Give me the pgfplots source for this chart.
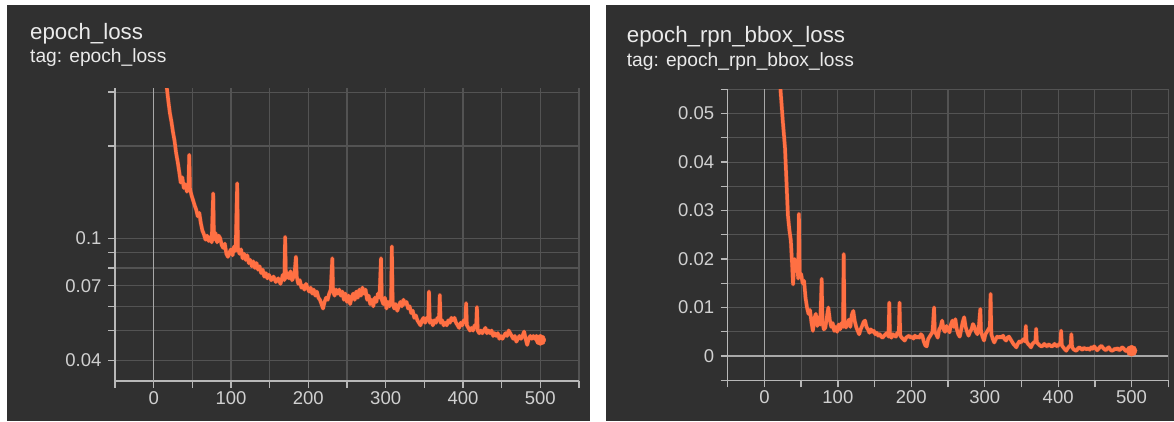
\documentclass[border=0pt]{standalone}
\usepackage{pgfplots}
\pgfplotsset{compat=1.18}
\usepackage{pgfplotstable}
\usepackage{fontspec}
\setmainfont{Liberation Sans}
\definecolor{panel}{HTML}{303030}
\definecolor{gridc}{HTML}{535353}
\definecolor{axisc}{HTML}{B8B8B8}
\definecolor{zeroc}{HTML}{A8A8A8}
\definecolor{tickc}{HTML}{D0D0D0}
\definecolor{titlec}{HTML}{EAEAEA}
\definecolor{lossc}{HTML}{FF7043}
\definecolor{rawc}{HTML}{8A4030}

\pgfplotstableread{
x y
0 1.2
4 0.75
8 0.55
12 0.42
15 0.35
17 0.31
19 0.28
21 0.256
23 0.24
25 0.222
27 0.208
29 0.19
31 0.178
33 0.165
35 0.152
37 0.158
39 0.146
41 0.15
43 0.142
45 0.148
46 0.187
47 0.145
49 0.138
51 0.133
53 0.128
55 0.124
57 0.118
59 0.121
61 0.112
63 0.106
65 0.103
67 0.099
69 0.102
71 0.098
73 0.101
75 0.097
77 0.140
78 0.099
80 0.104
82 0.097
84 0.102
86 0.100
88 0.095
90 0.093
92 0.096
94 0.089
96 0.087
98 0.090
100 0.092
102 0.088
104 0.094
106 0.091
108 0.151
109 0.093
111 0.089
113 0.092
115 0.086
117 0.089
119 0.085
121 0.088
123 0.083
125 0.085
127 0.081
129 0.084
131 0.080
133 0.083
135 0.079
137 0.081
139 0.077
141 0.079
143 0.075
145 0.077
147 0.074
149 0.076
152 0.073
155 0.075
158 0.072
161 0.074
164 0.071
167 0.076
169 0.073
170 0.101
171 0.074
173 0.077
175 0.074
177 0.078
179 0.073
182 0.076
184 0.087
185 0.075
187 0.071
189 0.073
191 0.069
193 0.070
195 0.068
197 0.071
199 0.069
201 0.067
203 0.069
205 0.066
207 0.068
209 0.065
211 0.067
213 0.064
215 0.063
217 0.061
219 0.059
221 0.062
223 0.064
225 0.063
227 0.066
229 0.068
231 0.086
232 0.067
234 0.065
236 0.068
238 0.066
240 0.068
242 0.065
244 0.067
246 0.063
248 0.066
250 0.062
252 0.065
254 0.061
256 0.064
258 0.066
260 0.063
262 0.067
264 0.064
266 0.068
268 0.065
270 0.069
272 0.066
274 0.068
276 0.063
278 0.065
280 0.061
282 0.063
284 0.060
286 0.064
288 0.062
290 0.066
292 0.064
294 0.086
295 0.063
297 0.061
299 0.064
301 0.059
303 0.062
305 0.060
307 0.063
308 0.094
309 0.062
311 0.059
313 0.061
315 0.058
317 0.060
319 0.062
321 0.060
323 0.063
325 0.061
327 0.062
329 0.059
331 0.060
333 0.057
335 0.058
337 0.055
339 0.056
341 0.054
343 0.053
345 0.052
347 0.054
349 0.055
351 0.053
353 0.055
355 0.054
356 0.067
357 0.053
359 0.054
361 0.052
363 0.054
365 0.053
367 0.055
369 0.054
370 0.0653
371 0.053
373 0.054
375 0.052
377 0.053
379 0.052
381 0.054
383 0.053
385 0.055
387 0.054
389 0.055
391 0.053
393 0.052
395 0.051
397 0.053
399 0.052
401 0.054
403 0.053
404 0.0614
405 0.052
407 0.051
409 0.050
411 0.051
413 0.050
415 0.052
417 0.051
418 0.0596
419 0.050
421 0.049
423 0.050
425 0.049
427 0.050
429 0.051
431 0.049
433 0.050
435 0.049
437 0.050
439 0.048
441 0.049
443 0.048
445 0.049
447 0.047
449 0.048
451 0.047
453 0.048
455 0.049
457 0.048
459 0.050
461 0.049
463 0.048
465 0.047
467 0.048
469 0.046
471 0.047
473 0.048
475 0.047
477 0.048
479 0.0496
481 0.047
483 0.0449
485 0.047
487 0.048
489 0.047
491 0.048
493 0.047
495 0.048
497 0.047
499 0.047
500 0.0466
}\losstable

\pgfplotstableread{
x y
0 0.12
8 0.09
14 0.075
18 0.065
22 0.0547
25 0.0485
28 0.043
30 0.0361
32 0.029
34 0.026
36 0.0238
38 0.018
39 0.0148
41 0.020
43 0.0175
44 0.0197
46 0.016
47 0.0293
48 0.017
50 0.0169
52 0.015
54 0.0155
56 0.012
58 0.0100
60 0.0087
62 0.0095
64 0.0070
66 0.0052
68 0.0078
70 0.0087
72 0.0062
74 0.0080
76 0.0065
78 0.0159
79 0.0070
81 0.0055
83 0.0059
85 0.0080
87 0.0100
89 0.0075
91 0.0060
93 0.0068
95 0.0052
97 0.0060
99 0.0050
101 0.0065
103 0.0055
105 0.0068
107 0.0060
108 0.0210
109 0.0065
111 0.0059
113 0.0068
115 0.0075
117 0.0060
119 0.0085
121 0.0093
123 0.0072
125 0.0060
127 0.0052
129 0.0045
131 0.0055
133 0.0062
135 0.0070
137 0.0073
139 0.0060
141 0.0055
143 0.0048
145 0.0055
147 0.0050
149 0.0052
151 0.0045
153 0.0048
155 0.0042
157 0.0045
159 0.0040
161 0.0038
163 0.0042
165 0.0045
167 0.0048
169 0.0040
170 0.0110
171 0.0042
173 0.0038
175 0.0045
177 0.0042
179 0.0040
181 0.0048
183 0.0045
184 0.0110
185 0.0042
187 0.0038
189 0.0035
191 0.0032
193 0.0038
195 0.0040
197 0.0042
199 0.0038
201 0.0040
203 0.0036
205 0.0042
207 0.0038
209 0.0040
211 0.0038
213 0.0045
215 0.0042
217 0.0030
219 0.0022
221 0.0020
223 0.0035
225 0.0040
227 0.0045
229 0.0050
231 0.0100
232 0.0050
234 0.0045
236 0.0038
238 0.0055
240 0.0060
242 0.0073
244 0.0055
246 0.0050
248 0.0062
250 0.0055
252 0.0049
254 0.0065
256 0.0073
258 0.0060
260 0.0076
262 0.0055
264 0.0045
266 0.0040
268 0.0055
270 0.0070
272 0.0080
274 0.0060
276 0.0050
278 0.0042
280 0.0050
282 0.0055
284 0.0066
286 0.0060
288 0.0050
290 0.0045
292 0.0060
294 0.0097
295 0.0050
297 0.0040
299 0.0032
301 0.0045
303 0.0050
305 0.0055
307 0.0060
308 0.0128
309 0.0045
311 0.0035
313 0.0028
315 0.0035
317 0.0040
319 0.0038
321 0.0040
323 0.0038
325 0.0042
327 0.0035
329 0.0032
331 0.0038
333 0.0040
335 0.0035
337 0.0030
339 0.0025
341 0.0022
343 0.0018
345 0.0025
347 0.0030
349 0.0028
351 0.0032
353 0.0035
355 0.0030
356 0.0062
357 0.0030
359 0.0025
361 0.0022
363 0.0018
365 0.0025
367 0.0028
369 0.0030
370 0.0056
371 0.0028
373 0.0025
375 0.0022
377 0.0020
379 0.0021
381 0.0025
383 0.0022
385 0.0020
387 0.0024
389 0.0022
391 0.0020
393 0.0021
395 0.0025
397 0.0022
399 0.0020
401 0.0024
403 0.0026
404 0.0052
405 0.0022
407 0.0018
409 0.0014
411 0.0011
413 0.0016
415 0.0020
417 0.0022
418 0.0045
419 0.0018
421 0.0014
423 0.0012
425 0.0011
427 0.0016
429 0.0018
431 0.0015
433 0.0013
435 0.0017
437 0.0015
439 0.0014
441 0.0016
443 0.0013
445 0.0018
447 0.0015
449 0.0020
451 0.0016
453 0.0012
455 0.0015
457 0.0019
459 0.0021
461 0.0017
463 0.0014
465 0.0012
467 0.0016
469 0.0018
471 0.0013
473 0.0011
475 0.0012
477 0.0015
479 0.0014
481 0.0016
483 0.0012
485 0.0014
487 0.0018
489 0.0016
491 0.0012
493 0.0010
495 0.0014
497 0.0016
499 0.0012
500 0.0011
}\rpntable

\pgfplotsset{
  tbstyle/.style={
    scale only axis,
    axis lines*=left,
    axis line style={-, color=axisc, line width=1.3pt},
    tick align=outside,
    major tick length=7pt,
    minor tick length=7pt,
    tick style={color=axisc, line width=1.3pt},
    grid=both,
    major grid style={color=gridc, line width=1.1pt},
    minor grid style={color=gridc, line width=1.1pt},
    xmin=-50, xmax=550,
    xtick={0,100,...,500},
    minor xtick={-50,50,...,550},
    /pgf/number format/assume math mode=true,
    ticklabel style={font=\fontsize{18.5}{20}\selectfont, color=tickc},
    scaled y ticks=false,
  },
}

\begin{document}
\begin{tikzpicture}
\useasboundingbox (0,0) rectangle (1174pt,421pt);
\fill[white] (0,0) rectangle (1174pt,421pt);
\fill[panel] (7pt,0) rectangle (590pt,416pt);
\fill[panel] (606pt,0) rectangle (1174pt,416pt);

\node[anchor=base west, inner sep=0, color=titlec, font=\fontsize{22.3}{24}\selectfont] at (30pt,381pt) {epoch\_loss};
\node[anchor=base west, inner sep=0, color=titlec, font=\fontsize{19.2}{21}\selectfont] at (30pt,358pt) {tag: epoch\_loss};
\node[anchor=base west, inner sep=0, color=titlec, font=\fontsize{22.3}{24}\selectfont] at (626.7pt,378pt) {epoch\_rpn\_bbox\_loss};
\node[anchor=base west, inner sep=0, color=titlec, font=\fontsize{19.2}{21}\selectfont] at (626.7pt,354.5pt) {tag: epoch\_rpn\_bbox\_loss};

\begin{axis}[tbstyle,
  at={(115pt,40pt)}, anchor=south west,
  width=464pt, height=293pt,
  ymode=log, ymin=0.03422, ymax=0.3093,
  ytick={0.04,0.07,0.1},
  yticklabels={0.04,0.07,0.1},
  minor ytick={0.05,0.06,0.08,0.09,0.2,0.3},
  yticklabel style={xshift=-3pt},
]
\draw[color=zeroc, line width=1.3pt] (axis cs:0,0.03422) -- (axis cs:0,0.3093);
\addplot[color=rawc, line width=4.4pt, line join=round, opacity=0.6] table[x=x,y=y] {\losstable};
\addplot[color=lossc, line width=3.5pt, line join=round] table[x=x,y=y] {\losstable};
\addplot[only marks, mark=*, mark size=5.5pt, color=lossc] coordinates {(500,0.0466)};
\end{axis}

\begin{axis}[tbstyle,
  at={(727.7pt,40.7pt)}, anchor=south west,
  width=440.6pt, height=291pt,
  ymin=-0.005, ymax=0.055,
  ytick={0,0.01,0.02,0.03,0.04,0.05},
  yticklabels={0,0.01,0.02,0.03,0.04,0.05},
  minor ytick={-0.005,0.005,0.015,0.025,0.035,0.045,0.055},
  yticklabel style={xshift=-3pt},
]
\draw[color=zeroc, line width=1.3pt] (axis cs:0,-0.005) -- (axis cs:0,0.055);
\draw[color=zeroc, line width=1.3pt] (axis cs:-50,0) -- (axis cs:550,0);
\addplot[color=rawc, line width=4.4pt, line join=round, opacity=0.6] table[x=x,y=y] {\rpntable};
\addplot[color=lossc, line width=3.5pt, line join=round] table[x=x,y=y] {\rpntable};
\addplot[only marks, mark=*, mark size=5.5pt, color=lossc] coordinates {(500,0.0011)};
\end{axis}
\end{tikzpicture}
\end{document}
